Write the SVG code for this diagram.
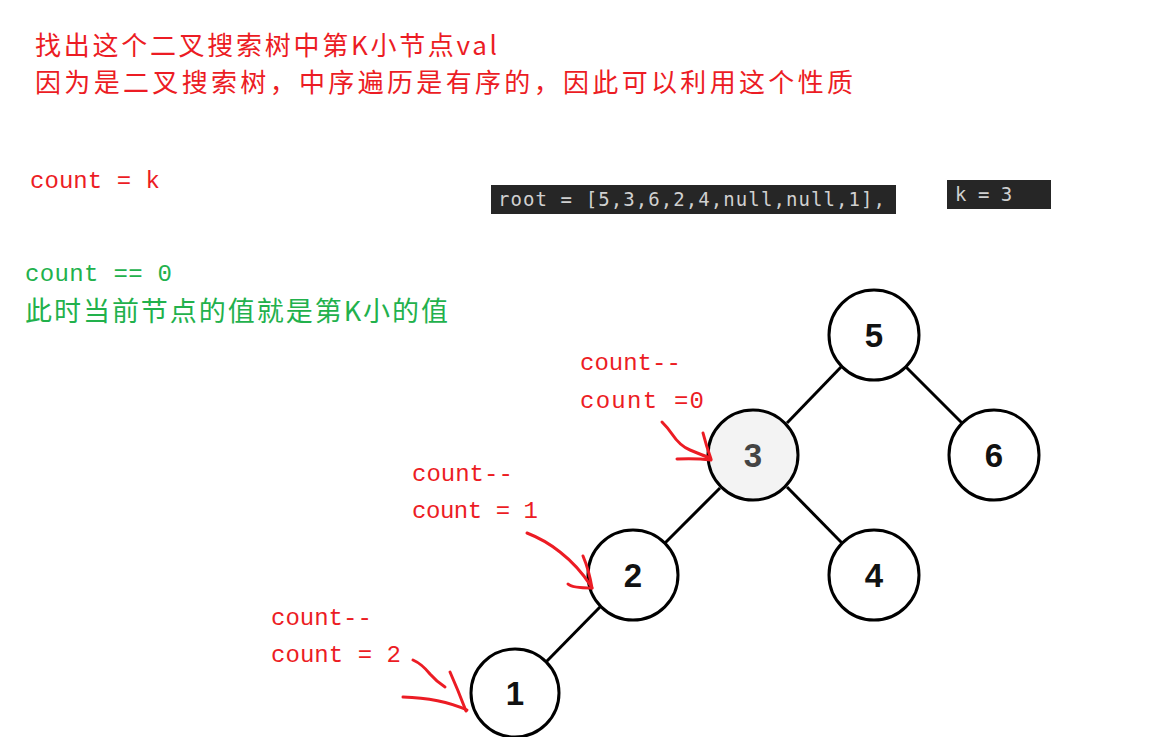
<svg xmlns="http://www.w3.org/2000/svg" width="1159" height="754" viewBox="0 0 1159 754">
<style>
.red{fill:#ec1c24;font-family:"Noto Sans CJK SC","Noto Sans",sans-serif;}
.green{fill:#22b14c;font-family:"Noto Sans CJK SC","Noto Sans",sans-serif;}
.mono{font-family:"Liberation Mono","DejaVu Sans Mono",monospace;font-size:24px;}
.code{fill:#d0d0d0;font-family:"DejaVu Sans Mono","Liberation Mono",monospace;font-size:19px;}
.node circle{fill:#ffffff;stroke:#000;stroke-width:3;}
.node text{font-family:"Liberation Sans",Arial,sans-serif;font-weight:bold;font-size:33px;fill:#111;text-anchor:middle;}
.edges line{stroke:#000;stroke-width:3;}
.hand path{fill:none;stroke:#ec1c24;stroke-width:3;stroke-linecap:round;stroke-linejoin:round;}
</style>
<defs>
<clipPath id="clip"><rect x="0" y="0" width="1159" height="737"/></clipPath>
</defs>
<rect width="1159" height="754" fill="#ffffff"/>

<text class="red" x="35" y="55" font-size="26" textLength="462" lengthAdjust="spacing">找出这个二叉搜索树中第K小节点val</text>
<text class="red" x="35" y="92" font-size="26" textLength="818" lengthAdjust="spacing">因为是二叉搜索树，中序遍历是有序的，因此可以利用这个性质</text>

<text class="mono" x="30" y="188" fill="#ec1c24" textLength="130">count = k</text>
<text class="mono" x="25" y="281" fill="#22b14c" textLength="147">count == 0</text>
<text class="green" x="25" y="321" font-size="27" textLength="423" lengthAdjust="spacing">此时当前节点的值就是第K小的值</text>

<g id="code-root">
<rect x="491" y="185" width="405" height="29" fill="#262626"/>
<text class="code" x="498" y="206" textLength="387">root = [5,3,6,2,4,null,null,1],</text>
</g>
<g id="code-k">
<rect x="947" y="180" width="104" height="29" fill="#262626"/>
<text class="code" x="955" y="201">k = 3</text>
</g>

<g class="edges" id="connectors">
<line x1="842" y1="366" x2="787" y2="423"/>
<line x1="906" y1="367" x2="962" y2="423"/>
<line x1="720" y1="488" x2="665" y2="543"/>
<line x1="787" y1="487" x2="842" y2="543"/>
<line x1="600" y1="607" x2="546" y2="662"/>
</g>

<g class="node" id="node-5"><circle cx="874" cy="335" r="45"/><text x="874" y="347">5</text></g>
<g class="node" id="node-3"><circle cx="753" cy="455" r="45" style="fill:#f3f3f3"/><text x="753" y="467" style="fill:#444">3</text></g>
<g class="node" id="node-6"><circle cx="994" cy="455" r="45"/><text x="994" y="467">6</text></g>
<g class="node" id="node-2"><circle cx="633" cy="575" r="45"/><text x="633" y="587">2</text></g>
<g class="node" id="node-4"><circle cx="874" cy="575" r="45"/><text x="874" y="587">4</text></g>
<g class="node" id="node-1" clip-path="url(#clip)"><circle cx="515" cy="693" r="44"/><text x="515" y="705">1</text></g>

<g id="annotations">
<text class="mono" x="580" y="370" fill="#ec1c24">count--</text>
<text class="mono" x="580" y="408" fill="#ec1c24" textLength="124">count =0</text>
<text class="mono" x="412" y="481" fill="#ec1c24">count--</text>
<text class="mono" x="412" y="518" fill="#ec1c24" textLength="126">count = 1</text>
<text class="mono" x="271" y="625" fill="#ec1c24">count--</text>
<text class="mono" x="271" y="662" fill="#ec1c24" textLength="130">count = 2</text>
</g>

<g class="hand" id="hand-arrows">
<path d="M662,422 Q668,428 672,434 Q680,446 690,450 Q702,455 710,458"/>
<path d="M677,459 Q695,458 711,460"/>
<path d="M703,433 Q706,445 711,459"/>
<path d="M527,533 Q545,540 560,552 Q578,566 591,586"/>
<path d="M583,556 Q589,570 592,588"/>
<path d="M568,584 Q572,588 592,588"/>
<path d="M413,660 Q422,664 430,674 Q437,682 445,687"/>
<path d="M450,672 Q458,690 466,711"/>
<path d="M403,697 Q440,698 467,710"/>
</g>
</svg>
